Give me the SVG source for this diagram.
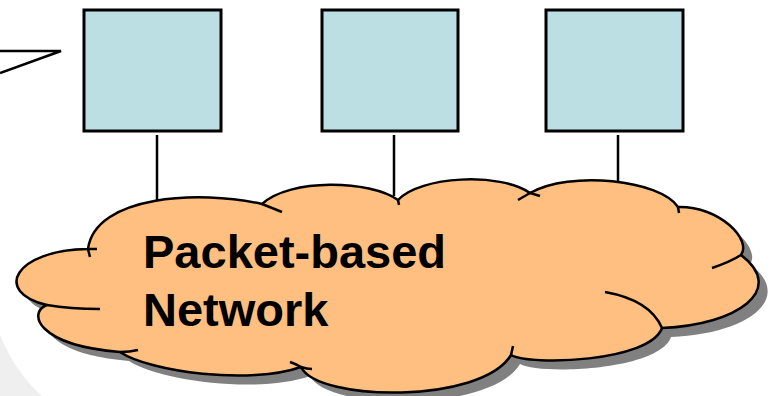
<svg xmlns="http://www.w3.org/2000/svg" width="773" height="396" viewBox="0 0 773 396">
<style>
.box{fill:#BBDFE2;stroke:#000;stroke-width:3}
.conn{stroke:#000;stroke-width:2.5;fill:none}
.cloud{fill:#FFBF80;stroke:#000;stroke-width:2.5;stroke-linejoin:round}
.notch{fill:none;stroke:#000;stroke-width:2.5;stroke-linecap:butt}
.lbl{font-family:"Liberation Sans",Arial,sans-serif;font-weight:bold;font-size:47px;fill:#000}
</style>
<defs>
<path id="cloudpath" d="M88,249 C15,250 -8,292 47,305 C28,312 35,345 120,352 C150,372 250,385 301,367 C318,402 482,404 511,355 C530,366 650,362 662,328 C737,325 787,290 741,255 C752,240 720,206 678,207 C660,180 570,170 530,193 C500,172 420,176 398,200 C370,180 290,178 262,204 C200,190 95,195 88,249 Z"/>
</defs>
<rect width="773" height="396" fill="#fff"/>
<path d="M0,335 Q15,372 42,396 L0,396 Z" fill="#efefef"/>
<g id="callout">
<polyline points="0,51 61,51 0,73" class="conn"/>
</g>
<g id="connectors">
<line x1="157" y1="135" x2="157" y2="203" class="conn"/>
<line x1="394" y1="135" x2="394" y2="196" class="conn"/>
<line x1="618" y1="135" x2="618" y2="182" class="conn"/>
</g>
<g id="node1"><rect x="84" y="10" width="137" height="121" class="box"/></g>
<g id="node2"><rect x="322" y="10" width="136" height="121" class="box"/></g>
<g id="node3"><rect x="546" y="10" width="137" height="121" class="box"/></g>
<g id="cloud">
<use href="#cloudpath" transform="translate(9,9)" fill="#808080"/>
<use href="#cloudpath" class="cloud"/>
<path class="notch" d="M47,305 Q70,309 100,309"/>
<path class="notch" d="M120,352 Q130,352 138,350"/>
<path class="notch" d="M301,367 Q296,364 290,362"/>
<path class="notch" d="M301,367 Q307,369 312,369"/>
<path class="notch" d="M511,355 Q512,351 513,346"/>
<path class="notch" d="M662,328 Q650,300 605,292"/>
<path class="notch" d="M741,255 Q730,262 712,268"/>
<path class="notch" d="M678,207 L679,213"/>
<path class="notch" d="M530,193 L518,200"/>
<path class="notch" d="M530,193 L540,196"/>
<path class="notch" d="M398,200 L399,205"/>
<path class="notch" d="M262,204 L282,212"/>
<path class="notch" d="M88,249 L97,249"/>
<path class="notch" d="M88,249 L90,257"/>
<text class="lbl" x="143" y="268">Packet-based</text>
<text class="lbl" x="143" y="326">Network</text>
</g>
</svg>
